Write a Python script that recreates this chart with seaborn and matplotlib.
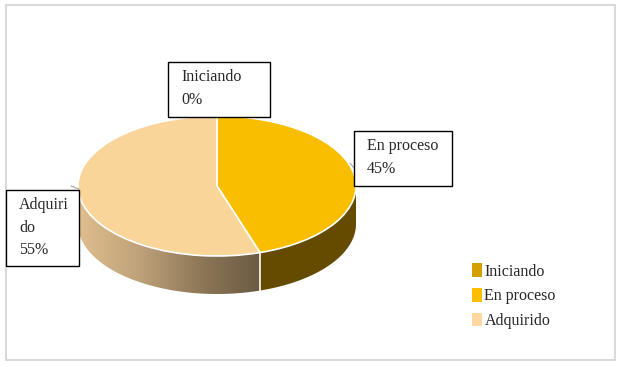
import numpy as np
import matplotlib.pyplot as plt
import seaborn as sns
from matplotlib.patches import Polygon, Rectangle, Patch
from matplotlib.colors import LinearSegmentedColormap

# data
categories = ["Iniciando", "En proceso", "Adquirido"]
values = [0, 45, 55]
box_texts = ["Iniciando\n0%", "En proceso\n45%", "Adquiri\ndo\n55%"]
top_colors = ["#D4A000", "#F9BE00", "#FAD59A"]
legend_colors = ["#D4A000", "#FBBE00", "#FDD9A0"]

sns.set_theme(style="white")
plt.rcParams["font.family"] = ["Liberation Serif", "DejaVu Serif"]

W, H = 622, 367
fig = plt.figure(figsize=(W / 100, H / 100), dpi=100)
ax = fig.add_axes([0, 0, 1, 1])

# pie geometry (pixels)
cx, cy = 217, 186
rx, ry = 139, 70
depth = 38
k = ry / rx  # vertical squash


def dy(py):
    return (H - py) / k


ax.set_xlim(0, W)
ax.set_ylim(0, H / k)

# top face
wedges, _ = ax.pie(values, colors=top_colors, startangle=90, counterclock=False,
                   center=(cx, dy(cy)), radius=rx, normalize=True,
                   wedgeprops=dict(edgecolor="white", linewidth=1.2))
for w in wedges:
    w.set_zorder(3)

# slice boundaries (clockwise from top)
total = sum(values)
start = 90.0
bounds = []
for v in values:
    end = start - 360.0 * v / total
    bounds.append((end, start))
    start = end


def wall(a, b):
    t = np.radians(np.linspace(a, b, 80))
    xs = cx + rx * np.cos(t)
    ys = dy(cy) + rx * np.sin(t)
    top = np.column_stack([xs, ys])
    bot = np.column_stack([xs, ys - depth / k])[::-1]
    return np.vstack([top, bot])


# En proceso wall (visible part)
lo, hi = bounds[1]
poly_ep = Polygon(wall(max(lo, -180), min(hi, 0)), closed=True,
                  facecolor="#654B00", edgecolor="none", zorder=1)
ax.add_patch(poly_ep)

# Adquirido wall with shading gradient
pts = wall(-180, bounds[1][0])
poly_ad = Polygon(pts, closed=True, facecolor="none", edgecolor="none", zorder=1)
ax.add_patch(poly_ad)
cmap = LinearSegmentedColormap.from_list("wall", ["#DFBE8E", "#BFA27A", "#8E7858", "#6B5A44"])
grad = np.linspace(0, 1, 256).reshape(1, -1)
im = ax.imshow(grad, cmap=cmap, aspect="auto", zorder=1,
               extent=[pts[:, 0].min(), pts[:, 0].max(), pts[:, 1].min(), pts[:, 1].max()])
im.set_clip_path(poly_ad)

# seam line between walls
t = np.radians(bounds[1][0])
sx = cx + rx * np.cos(t)
sy = dy(cy) + rx * np.sin(t)
ax.plot([sx, sx], [sy, sy - depth / k], color="white", lw=1.2, zorder=2)

ax.set_xlim(0, W)
ax.set_ylim(0, H / k)
ax.set_aspect("auto")
ax.axis("off")

# label boxes (pixel coords)
boxes = [(168, 62, 102, 55), (354, 131, 98, 55), (6, 190, 73, 76)]
for (bx, by, bw, bh), txt in zip(boxes, box_texts):
    ax.add_patch(Rectangle((bx / W, 1 - (by + bh) / H), bw / W, bh / H,
                           transform=ax.transAxes, facecolor="white",
                           edgecolor="black", lw=1.0, zorder=5))
    ax.text((bx + 13) / W, 1 - (by + 7) / H, txt, transform=ax.transAxes,
            ha="left", va="top", fontsize=11.5, linespacing=1.55, zorder=6)

# leader lines
ax.plot([79 / W, 71 / W], [1 - 189 / H, 1 - 186 / H], transform=ax.transAxes,
        color="#A6A6A6", lw=0.8, zorder=4)
ax.plot([354 / W, 350 / W], [1 - 168 / H, 1 - 163 / H], transform=ax.transAxes,
        color="#A6A6A6", lw=0.8, zorder=4)

# outer frame
ax.add_patch(Rectangle((6 / W, 1 - 360 / H), 609 / W, 355 / H, transform=ax.transAxes,
                       facecolor="none", edgecolor="#D9D9D9", lw=1.5, zorder=0))

handles = [Patch(facecolor=c, edgecolor="none") for c in legend_colors]
ax.legend(handles, categories, loc="upper left", bbox_to_anchor=(458 / W, 1 - 249 / H),
          frameon=False, handlelength=0.6, handleheight=0.9, handletextpad=0.15,
          labelspacing=0.55, prop={"family": "Liberation Serif", "size": 11.5})

fig.savefig("out.png", dpi=100)
